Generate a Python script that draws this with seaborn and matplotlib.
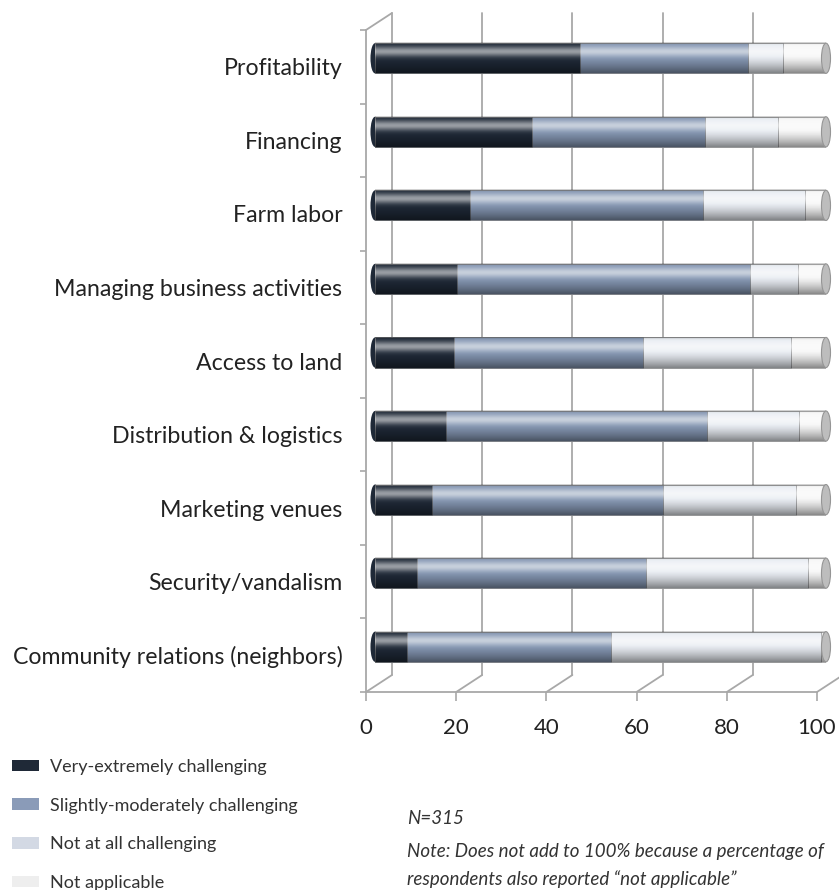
import numpy as np
import pandas as pd
import matplotlib
matplotlib.use('Agg')
import matplotlib.pyplot as plt
import matplotlib.transforms as mtransforms
from matplotlib.patches import Patch, Ellipse, ConnectionPatch
import seaborn as sns

# values (percent of respondents)
categories = ['Profitability', 'Financing', 'Farm labor', 'Managing business activities',
              'Access to land', 'Distribution & logistics', 'Marketing venues',
              'Security/vandalism', 'Community relations (neighbors)']
very_extremely = [45.5, 34.8, 21.1, 18.2, 17.5, 15.7, 12.6, 9.3, 7.1]
slightly_moderately = [37.2, 38.4, 51.6, 64.9, 41.9, 57.9, 51.3, 50.8, 45.2]
not_at_all = [7.8, 16.2, 22.6, 10.7, 32.8, 20.4, 29.4, 35.9, 46.7]
not_applicable = [9.5, 10.6, 4.7, 6.2, 7.8, 6.0, 6.7, 4.0, 1.0]
x_ticks = [0, 20, 40, 60, 80, 100]
series_names = ['Very-extremely challenging', 'Slightly-moderately challenging',
                'Not at all challenging', 'Not applicable']

bar_colors = ['#1f2937', '#8597b3', '#e9edf3', '#f7f7f7']
legend_colors = ['#1f2937', '#8a9bb8', '#d3d9e4', '#eeeeee']
grid_col = '#a8a8a8'

df = pd.DataFrame({'category': categories, 'very': very_extremely,
                   'slight': slightly_moderately, 'notatall': not_at_all,
                   'na': not_applicable})
df['c1'] = df['very']
df['c2'] = df['c1'] + df['slight']
df['c3'] = df['c2'] + df['notatall']
df['c4'] = df['c3'] + df['na']

sns.set_theme(style='white')
plt.rcParams['font.family'] = ['Lato', 'DejaVu Sans']

W, H = 839, 890
fig = plt.figure(figsize=(W / 100, H / 100), dpi=100)

# front frame axes: x 0..100 from 366 to 817 px, categories from 30 to 692 px
ax = fig.add_axes([366 / W, (H - 692) / H, 451 / W, 662 / H])
ax.set_xlim(0, 100)
ax.set_ylim(len(categories) - 0.5, -0.5)
ax.set_facecolor('none')
for s in ['top', 'right']:
    ax.spines[s].set_visible(False)
for s in ['left', 'bottom']:
    ax.spines[s].set_color(grid_col)
    ax.spines[s].set_linewidth(1.3)
ax.set_xticks(x_ticks)
ax.set_yticks(range(len(categories)))
ax.set_yticklabels(categories)
ax.set_yticks(np.arange(-0.5, len(categories)), minor=True)
ax.tick_params(axis='y', which='major', length=0, pad=17, labelsize=16.7, labelcolor='#222222')
ax.tick_params(axis='y', which='minor', left=True, length=4, width=1.2, color=grid_col)
ax.tick_params(axis='x', bottom=True, length=6.5, width=1.2, color=grid_col,
               pad=12, labelsize=16, labelcolor='#222222')
ax.grid(False)

# back wall: shifted by the depth of the pseudo 3d box
back = mtransforms.offset_copy(ax.transData, fig=fig, x=26, y=17, units='dots')
ytop, ybot = -0.5, len(categories) - 0.5
for v in x_ticks[:-1]:
    ax.plot([v, v], [ybot, ytop], transform=back, color=grid_col, lw=1.3, clip_on=False)
for v in x_ticks:
    con = ConnectionPatch((v, ybot), (v, ybot), coordsA=ax.transData, coordsB=back,
                          color=grid_col, lw=1.3)
    ax.add_artist(con)
ax.add_artist(ConnectionPatch((0, ytop), (0, ytop), coordsA=ax.transData, coordsB=back,
                              color=grid_col, lw=1.3))

# bars sit inside the box
bx = fig.add_axes([(366 + 9) / W, (H - 692 + 8.5) / H, 451 / W, 662 / H])
bx.patch.set_alpha(0)
bar_h = 0.41
for i, col in enumerate(['c4', 'c3', 'c2', 'c1']):
    sns.barplot(data=df, x=col, y='category', orient='h', color=bar_colors[3 - i],
                saturation=1, width=bar_h, edgecolor='#6f6f6f', linewidth=0.4, ax=bx)

# cylinder shading
n = 80
t = np.linspace(0, 1, n)
white = 0.55 * np.exp(-((t - 0.3) / 0.16) ** 2)
black = 0.45 * np.clip((t - 0.45) / 0.55, 0, 1) ** 1.4 + 0.2 * np.exp(-(t / 0.05) ** 2)
shade = np.zeros((n, 1, 4))
level = white / (white + black + 1e-9)
shade[:, 0, 0] = level
shade[:, 0, 1] = level
shade[:, 0, 2] = level
shade[:, 0, 3] = np.clip(white + black, 0, 1)

for k in range(len(categories)):
    bx.add_patch(Ellipse((0, k), 2.0, bar_h, facecolor=bar_colors[0], edgecolor='none',
                         zorder=0.5, clip_on=False))
    bx.imshow(shade, extent=[0, df['c4'][k], k + bar_h / 2, k - bar_h / 2], aspect='auto',
              interpolation='bilinear', zorder=3)
    bx.add_patch(Ellipse((df['c4'][k], k), 2.0, bar_h, facecolor='#bdbdbd',
                         edgecolor='#959595', lw=0.8, zorder=4, clip_on=False))

bx.set_xlim(0, 100)
bx.set_ylim(len(categories) - 0.5, -0.5)
bx.axis('off')

# legend
handles = [Patch(facecolor=c, edgecolor='none', label=l) for c, l in zip(legend_colors, series_names)]
fig.legend(handles=handles, loc='upper left', bbox_to_anchor=(12 / W, 1 - 759 / H),
           frameon=False, borderpad=0, borderaxespad=0, handlelength=1.5, handleheight=0.6,
           handletextpad=0.6, labelspacing=1.25,
           prop={'size': 13}, labelcolor='#333333')

# notes
note_kw = dict(fontsize=13.5, style='italic', color='#333333', va='center')
fig.text(407 / W, 1 - 818 / H, 'N=315', **note_kw)
fig.text(407 / W, 1 - 851 / H, 'Note: Does not add to 100% because a percentage of', **note_kw)
fig.text(407 / W, 1 - 879 / H, 'respondents also reported \u201cnot applicable\u201d', **note_kw)

fig.savefig('out.png', dpi=100)
